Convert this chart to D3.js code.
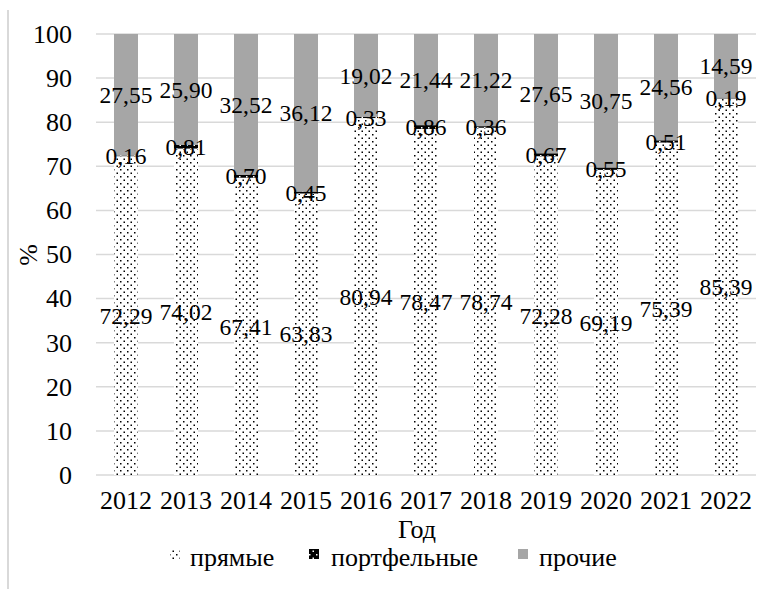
<!DOCTYPE html>
<html>
<head>
<meta charset="utf-8">
<script src="https://cdn.jsdelivr.net/npm/d3@7"></script>
<style>
  html, body { margin: 0; padding: 0; background: #fff; }
  svg { display: block; }
  svg text { font-family: 'Liberation Serif'; }
  .ser { font-family: 'Liberation Serif'; }
</style>
</head>
<body>
<svg id="chart" width="770" height="589" style="font-family: 'Liberation Serif';"></svg>
<script>
const years = ['2012','2013','2014','2015','2016','2017','2018','2019','2020','2021','2022'];
const direct = [72.29, 74.02, 67.41, 63.83, 80.94, 78.47, 78.74, 72.28, 69.19, 75.39, 85.39];
const portfolio = [0.16, 0.81, 0.70, 0.45, 0.33, 0.86, 0.36, 0.67, 0.55, 0.51, 0.19];
const other = [27.55, 25.90, 32.52, 36.12, 19.02, 21.44, 21.22, 27.65, 30.75, 24.56, 14.59];
const yTicks = [0, 10, 20, 30, 40, 50, 60, 70, 80, 90, 100];
const seriesNames = ['прямые', 'портфельные', 'прочие'];
const xTitle = 'Год';
const yTitle = '%';

const FF = 'Liberation Serif';
const svg = d3.select('#chart');
const W = 770, H = 589;
const margin = {left: 96, right: 14, top: 34, bottom: 114};

function txt(sel, size) {
  return sel.attr('class', 'ser').attr('font-family', FF).style('font-family', FF)
    .attr('font-size', size).style('font-size', size + 'px').attr('fill', '#000');
}

const x = d3.scaleBand().domain(years).range([margin.left, W - margin.right]).paddingInner(0.6).paddingOuter(0.3);
const y = d3.scaleLinear().domain([0, 100]).range([H - margin.bottom, margin.top]);

const defs = svg.append('defs');
function dotPattern(id, bg, fg) {
  const p = defs.append('pattern').attr('id', id).attr('patternUnits', 'userSpaceOnUse')
    .attr('width', 7).attr('height', 7);
  p.append('rect').attr('width', 7).attr('height', 7).attr('fill', bg);
  p.append('rect').attr('x', 1).attr('y', 1).attr('width', 1.5).attr('height', 1.5).attr('fill', fg);
  p.append('rect').attr('x', 4.5).attr('y', 4.5).attr('width', 1.5).attr('height', 1.5).attr('fill', fg);
}
dotPattern('pDirect', '#ffffff', '#000000');
dotPattern('pPort', '#000000', '#ffffff');
defs.append('clipPath').attr('id', 'plotClip').append('rect')
  .attr('x', margin.left).attr('y', margin.top).attr('width', W - margin.left - margin.right).attr('height', H - margin.top - margin.bottom);

const fills = ['url(#pDirect)', 'url(#pPort)', '#a6a6a6'];

// outer border line on the left
svg.append('line').attr('x1', 8).attr('x2', 8).attr('y1', 10).attr('y2', H).attr('stroke', '#d9d9d9').attr('stroke-width', 2);

// gridlines
svg.append('g').selectAll('line').data(yTicks).join('line')
  .attr('x1', margin.left).attr('x2', W - margin.right)
  .attr('y1', d => y(d)).attr('y2', d => y(d))
  .attr('stroke', '#d9d9d9').attr('stroke-width', 1.5);

// y axis labels
const yAxis = svg.append('g').attr('transform', `translate(${margin.left - 24},0)`)
  .call(d3.axisLeft(y).tickValues(yTicks).tickSize(0).tickPadding(0).tickFormat(d3.format('d')));
yAxis.attr('font-family', FF).attr('font-size', 26);
yAxis.select('.domain').remove();
txt(yAxis.selectAll('text'), 26);

// x axis labels
const xAxis = svg.append('g').attr('transform', `translate(0,${y(0)})`)
  .call(d3.axisBottom(x).tickSize(0).tickPadding(0));
xAxis.attr('font-family', FF).attr('font-size', 26);
xAxis.select('.domain').remove();
txt(xAxis.selectAll('text'), 26).attr('y', 34).attr('dy', null);

// stack
const rows = years.map((yr, i) => ({year: yr, d: direct[i], p: portfolio[i], o: other[i]}));
const stack = d3.stack().keys(['d', 'p', 'o'])(rows);

const bars = svg.append('g').attr('clip-path', 'url(#plotClip)');
stack.forEach((s, si) => {
  bars.append('g').selectAll('rect').data(s).join('rect')
    .attr('x', d => x(d.data.year))
    .attr('width', x.bandwidth())
    .attr('y', d => y(d[1]))
    .attr('height', d => y(d[0]) - y(d[1]))
    .attr('fill', fills[si]);
});

// data labels
const fmt = v => v.toFixed(2).replace('.', ',');
const labels = svg.append('g');
stack.forEach((s, si) => {
  txt(labels.append('g').selectAll('text').data(s).join('text'), 23.5)
    .attr('x', d => x(d.data.year) + x.bandwidth() / 2)
    .attr('y', d => y((Math.min(d[0], 100) + Math.min(d[1], 100)) / 2))
    .attr('dy', '0.35em')
    .attr('text-anchor', 'middle')
    .text(d => fmt(d[1] - d[0]));
});

// axis titles
txt(svg.append('text'), 26).attr('x', 417).attr('y', 538).attr('text-anchor', 'middle').text(xTitle);
txt(svg.append('text'), 26).attr('transform', 'translate(37,255) rotate(-90)').attr('text-anchor', 'middle').text(yTitle);

// legend
const legendItems = [
  {name: seriesNames[0], fill: fills[0], mx: 170, tx: 190},
  {name: seriesNames[1], fill: fills[1], mx: 309, tx: 331},
  {name: seriesNames[2], fill: fills[2], mx: 518, tx: 539}
];
const lg = svg.append('g');
legendItems.forEach(it => {
  lg.append('rect').attr('x', it.mx).attr('y', 549).attr('width', 10).attr('height', 10).attr('fill', it.fill);
  txt(lg.append('text'), 26).attr('x', it.tx).attr('y', 566).text(it.name);
});
</script>
</body>
</html>
